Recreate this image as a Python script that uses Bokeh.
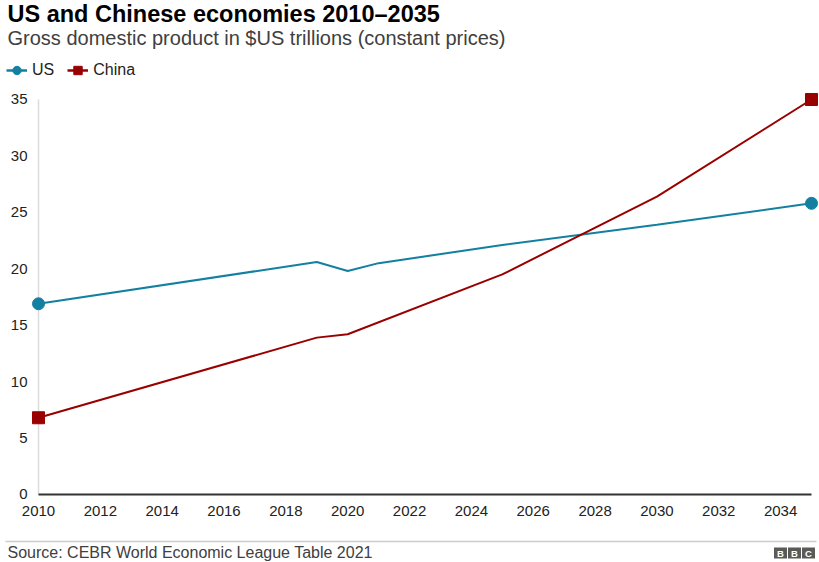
from bokeh.plotting import figure
from bokeh.models import (Legend, LegendItem, FixedTicker, Range1d, ColumnDataSource)
from bokeh.layouts import column, row
from bokeh.core.properties import value
from bokeh.embed import file_html
from bokeh.resources import INLINE

# ---- data ----
years_us = [2010, 2019, 2020, 2021, 2025, 2030, 2035]
gdp_us = [16.9, 20.6, 19.8, 20.5, 22.1, 23.9, 25.8]
years_cn = [2010, 2019, 2020, 2025, 2030, 2035]
gdp_cn = [6.8, 13.9, 14.2, 19.5, 26.4, 35.0]
y_ticks = [0, 5, 10, 15, 20, 25, 30, 35]
x_ticks = list(range(2010, 2035, 2))
series_names = ["US", "China"]

title_text = "US and Chinese economies 2010\u20132035"
subtitle_text = "Gross domestic product in $US trillions (constant prices)"
source_text = "Source: CEBR World Economic League Table 2021"
logo_letters = ["B", "B", "C"]

US_COL = "#1380A1"
CN_COL = "#990000"
FONT = "Liberation Sans"
W = 819
HEAD_H, MAIN_H, FOOT_H = 88, 444, 30


def blank(height):
    f = figure(width=W, height=height, output_backend="svg", toolbar_location=None,
               x_range=Range1d(0, W), y_range=Range1d(height, 0),
               x_axis_location=None, y_axis_location=None,
               min_border=0, min_border_left=0, min_border_right=0,
               min_border_top=0, min_border_bottom=0)
    f.outline_line_color = None
    f.xgrid.grid_line_color = None
    f.ygrid.grid_line_color = None
    f.border_fill_color = "white"
    f.background_fill_color = "white"
    return f


# ---- header ----
head = blank(HEAD_H)
head.text(x=[7], y=[0], text=[title_text], text_font=value(FONT), text_font_size="23.5px",
          text_font_style="bold", text_color="#000000", text_baseline="top")
head.text(x=[7], y=[26], text=[subtitle_text], text_font=value(FONT), text_font_size="20px",
          text_color="#404040", text_baseline="top")
offscreen = ColumnDataSource(dict(x=[-1000], y=[-1000]))
hl_us = head.line("x", "y", source=offscreen, line_color=US_COL, line_width=2.5)
hm_us = head.scatter("x", "y", source=offscreen, marker="circle", size=10,
                     fill_color=US_COL, line_color=US_COL)
hl_cn = head.line("x", "y", source=offscreen, line_color=CN_COL, line_width=2.5)
hm_cn = head.scatter("x", "y", source=offscreen, marker="square", size=10,
                     fill_color=CN_COL, line_color=CN_COL)
legend = Legend(items=[LegendItem(label=series_names[0], renderers=[hl_us, hm_us]),
                       LegendItem(label=series_names[1], renderers=[hl_cn, hm_cn])],
                orientation="horizontal", location=(6, 6),
                label_text_font=FONT, label_text_font_size="16px",
                label_text_color="#222222", glyph_width=21, glyph_height=24,
                label_standoff=5, spacing=13, padding=0, margin=0,
                border_line_color=None, background_fill_alpha=0)
head.add_layout(legend, "center")

# ---- main chart ----
p = figure(width=W, height=MAIN_H, output_backend="svg", toolbar_location=None,
           x_range=Range1d(2009.741, 2035.226), y_range=Range1d(-0.532, 35.62),
           min_border_left=30, min_border_right=1, min_border_top=4, min_border_bottom=32)
p.outline_line_color = None
p.xgrid.grid_line_color = None
p.ygrid.grid_line_color = None
p.background_fill_color = "white"
p.border_fill_color = "white"

p.yaxis.ticker = FixedTicker(ticks=y_ticks)
p.xaxis.ticker = FixedTicker(ticks=x_ticks)
for ax in (p.xaxis[0], p.yaxis[0]):
    ax.axis_line_color = None
    ax.major_tick_line_color = None
    ax.minor_tick_line_color = None
    ax.major_tick_out = 0
    ax.major_tick_in = 0
    ax.minor_tick_out = 0
    ax.minor_tick_in = 0
    ax.major_label_text_font = FONT
    ax.major_label_text_font_size = "15px"
    ax.major_label_text_color = "#222222"
p.yaxis.major_label_standoff = 3
p.xaxis.major_label_standoff = 5

# axis lines: light grey vertical at first year, dark baseline at zero
x_lo, x_hi = years_us[0], years_us[-1]
p.segment(x0=[x_lo], y0=[y_ticks[0]], x1=[x_lo], y1=[y_ticks[-1]],
          line_color="#dcdcdc", line_width=1.5)
p.segment(x0=[x_lo], y0=[y_ticks[0]], x1=[x_hi], y1=[y_ticks[0]],
          line_color="#333333", line_width=2)

src_us = ColumnDataSource(dict(x=years_us, y=gdp_us))
src_cn = ColumnDataSource(dict(x=years_cn, y=gdp_cn))
end_us = ColumnDataSource(dict(x=[years_us[0], years_us[-1]], y=[gdp_us[0], gdp_us[-1]]))
end_cn = ColumnDataSource(dict(x=[years_cn[0], years_cn[-1]], y=[gdp_cn[0], gdp_cn[-1]]))

p.line("x", "y", source=src_us, line_color=US_COL, line_width=2)
p.line("x", "y", source=src_cn, line_color=CN_COL, line_width=2)
p.scatter("x", "y", source=end_us, marker="circle", size=12,
          fill_color=US_COL, line_color=US_COL)
p.scatter("x", "y", source=end_cn, marker="square", size=12,
          fill_color=CN_COL, line_color=CN_COL)

# ---- footer ----
foot = blank(FOOT_H)
foot.segment(x0=[5], y0=[9], x1=[816], y1=[9], line_color="#cccccc", line_width=1.5)
foot.text(x=[7], y=[19.5], text=[source_text], text_font=value(FONT), text_font_size="16px",
          text_color="#404040", text_baseline="middle")
logo_x = [780, 794, 808]
foot.rect(x=logo_x, y=[20.5] * 3, width=13, height=11, fill_color="#5a5a5a", line_color=None)
foot.text(x=logo_x, y=[21] * 3, text=logo_letters, text_font=value(FONT),
          text_font_size="9.5px", text_font_style="bold", text_color="white",
          text_align="center", text_baseline="middle")

layout = column(row(head), p, row(foot), spacing=0)
open("out.html", "w").write(file_html(layout, INLINE))
